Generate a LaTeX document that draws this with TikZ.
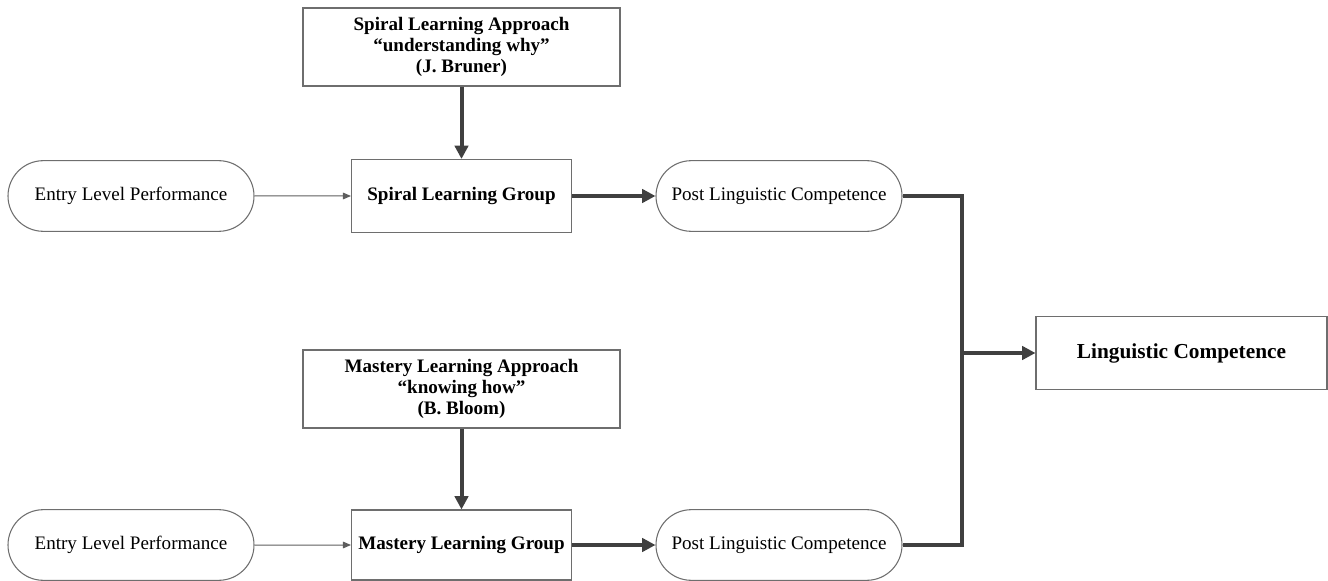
\documentclass[tikz,border=0pt]{standalone}
\usepackage{fontspec}
\setmainfont{Liberation Serif}
\usetikzlibrary{arrows.meta,shapes.misc}
\definecolor{edgegray}{RGB}{110,110,110}
\definecolor{linkgray}{RGB}{64,64,64}
\begin{document}
\begin{tikzpicture}[x=0.75pt,y=-0.75pt,
  box/.style={draw=edgegray,line width=0.8pt,rectangle,inner sep=0pt,align=center,
    font=\fontsize{14.3}{16}\selectfont\bfseries},
  pill/.style={draw=edgegray,line width=0.8pt,rounded rectangle,inner sep=0pt,
    minimum width=184.5pt,minimum height=53pt,font=\fontsize{14.3}{16}\selectfont},
  thin link/.style={draw=linkgray!85,line width=0.75pt,-{Triangle[length=6pt,width=5pt]}},
  thick link/.style={draw=linkgray,line width=3pt,-{Triangle[length=10pt,width=10pt]}}]
 \useasboundingbox (0,0) rectangle (1328,581);
 % upper branch
 \node[box,minimum width=237.75pt,minimum height=58.5pt] (spa) at (461.5,47)
   {Spiral Learning Approach\\``understanding why''\\(J. Bruner)};
 \node[box,minimum width=165pt,minimum height=54.75pt] (spg) at (461.5,196) {Spiral Learning Group};
 \node[pill] (ent1) at (131,196) {Entry Level Performance};
 \node[pill] (post1) at (779,196) {Post Linguistic Competence};
 % lower branch
 \node[box,minimum width=237.75pt,minimum height=58.5pt] (mla) at (461.5,389)
   {Mastery Learning Approach\\``knowing how''\\(B. Bloom)};
 \node[box,minimum width=165pt,minimum height=52.5pt] (mlg) at (461.5,545) {Mastery Learning Group};
 \node[pill] (ent2) at (131,545) {Entry Level Performance};
 \node[pill] (post2) at (779,545) {Post Linguistic Competence};
 % outcome
 \node[box,minimum width=218.25pt,minimum height=54.75pt,font=\fontsize{16}{18}\selectfont\bfseries]
   (lc) at (1181.5,353) {Linguistic Competence};
 \coordinate (join) at (962,353);
 % links
 \draw[thin link] (ent1) -- (spg);
 \draw[thin link] (ent2) -- (mlg);
 \draw[thick link] (spa) -- (spg);
 \draw[thick link] (mla) -- (mlg);
 \draw[thick link] (spg) -- (post1);
 \draw[thick link] (mlg) -- (post2);
 \draw[draw=linkgray,line width=3pt] (post1.east) -| (join);
 \draw[draw=linkgray,line width=3pt] (post2.east) -| (join);
 \draw[thick link] (join) -- (lc);
\end{tikzpicture}
\end{document}
